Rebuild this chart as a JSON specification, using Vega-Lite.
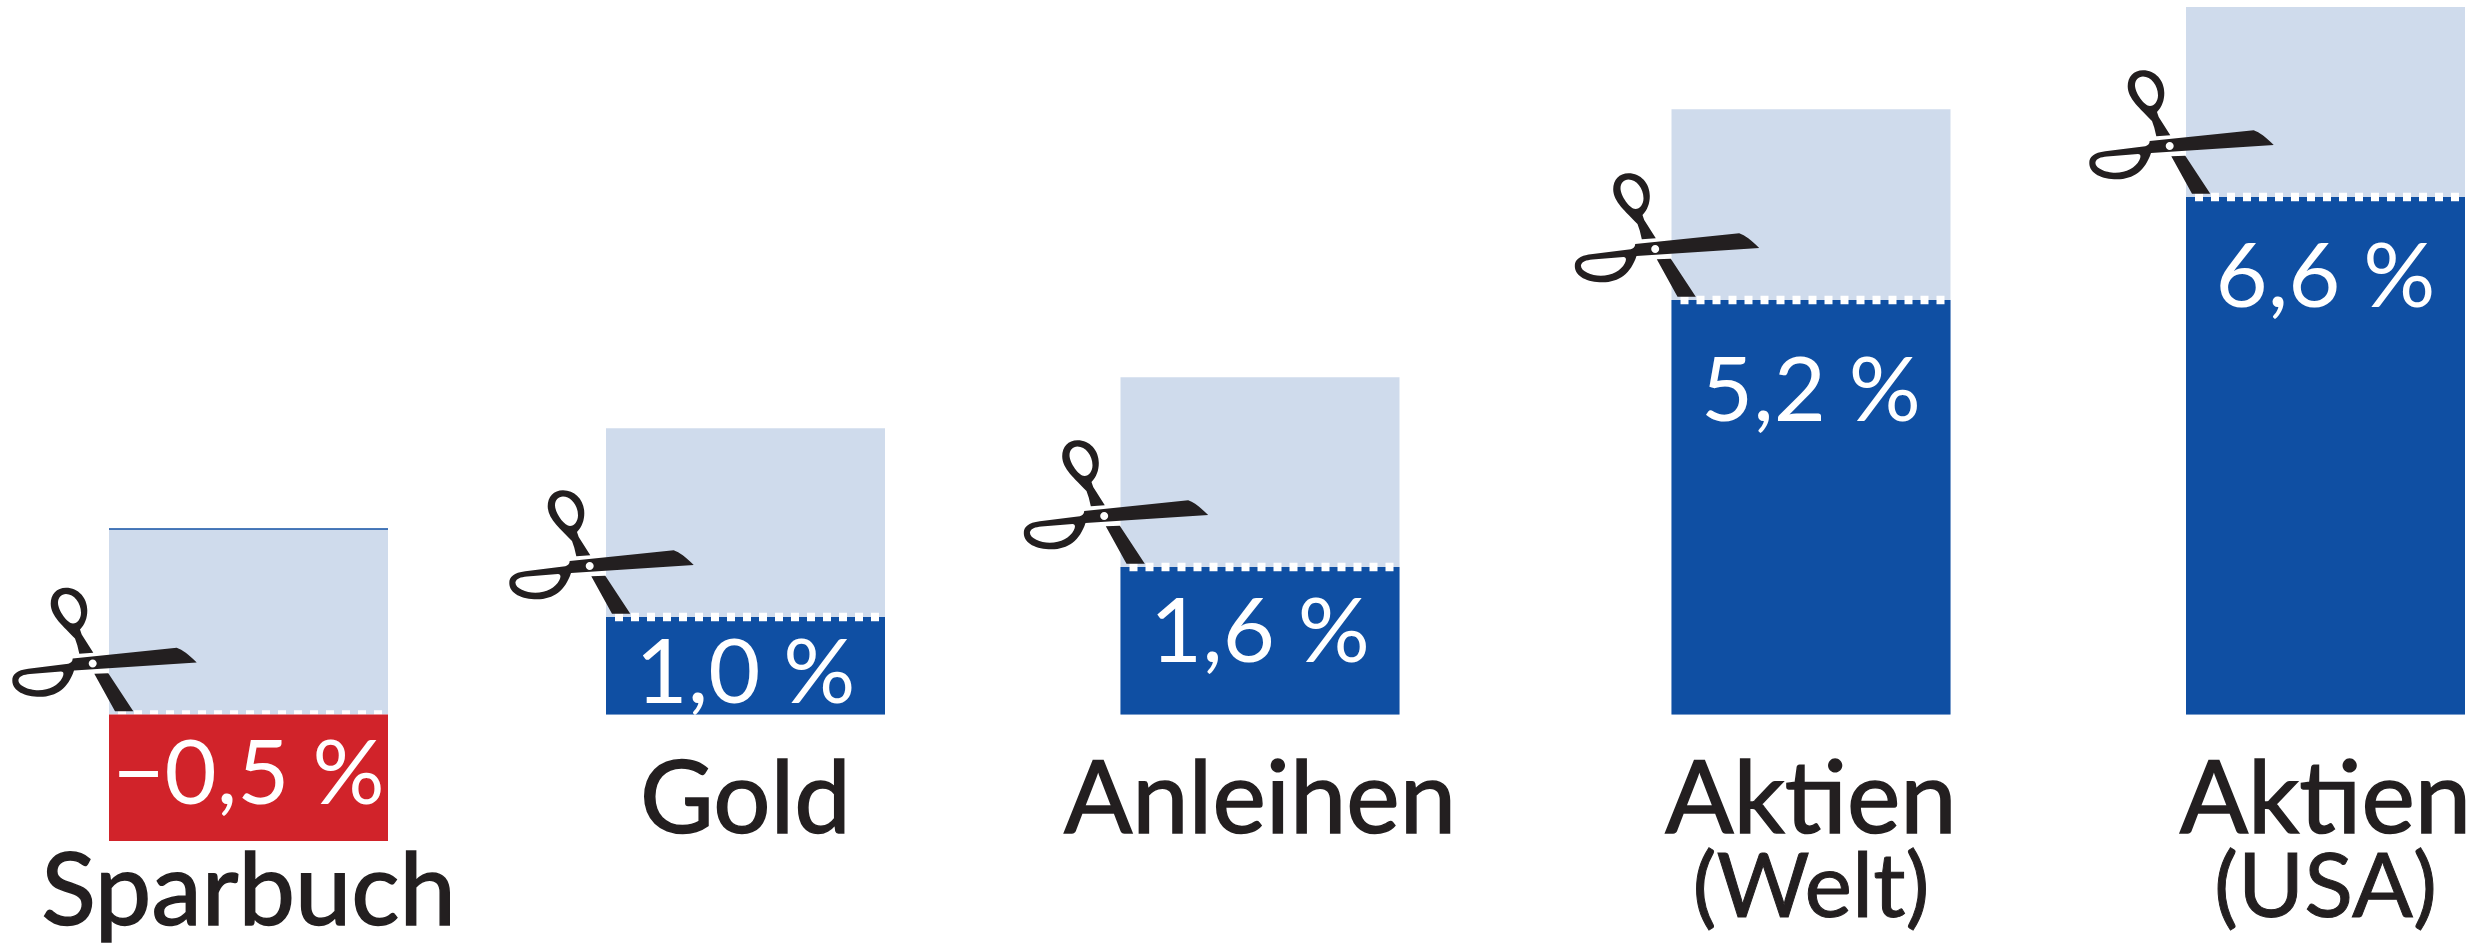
{
"$schema":"https://vega.github.io/schema/vega-lite/v6.json",
"width":2492,"height":945,"padding":0,"autosize":{"type":"none"},
"background":"white","view":{"stroke":null},
"data":{"values":[
{"name":"Sparbuch","sub":"","pos":1,"net":-0.5,"cut":0,"gross":2.11,"label":"−0,5 %"},
{"name":"Gold","sub":"","pos":2,"net":1.0,"cut":1.0,"gross":3.47,"label":"1,0 %"},
{"name":"Anleihen","sub":"","pos":3,"net":1.6,"cut":1.6,"gross":4.16,"label":"1,6 %"},
{"name":"Aktien","sub":"(Welt)","pos":4,"net":5.2,"cut":5.2,"gross":7.8,"label":"5,2 %"},
{"name":"Aktien","sub":"(USA)","pos":5,"net":6.6,"cut":6.6,"gross":9.2,"label":"6,6 %"}
]},
"encoding":{"x":{"field":"pos","type":"quantitative","axis":null,"scale":{"padding":0,"domain":[1,2,3,4,5],"range":[248.5,745.5,1260,1811,2325.5]}}},
"resolve":{"scale":{"y":"independent"}},
"layer":[
{"mark":{"type":"bar","size":279,"orient":"vertical","color":"#CFDBEC"},
 "encoding":{"y":{"field":"gross","type":"quantitative","axis":null,"scale":{"domain":[-0.5,0,1,1.6,5.2,6.6,9.2],"range":[841,714.5,617,567,300,197,7]}}}},
{"transform":[{"filter":"datum.net<0"}],"mark":{"type":"point","filled":true,"opacity":1,"color":"#0F4FA3","size":40000,"strokeWidth":0,"shape":"M-1.395 -0.01L1.395 -0.01L1.395 0.005L-1.395 0.005Z"},
 "encoding":{"y":{"field":"gross","type":"quantitative","axis":null,"scale":{"domain":[-0.5,0,1,1.6,5.2,6.6,9.2],"range":[841,714.5,617,567,300,197,7]}}}},
{"transform":[{"filter":"datum.net>0"}],"mark":{"type":"bar","size":279,"orient":"vertical","color":"#0F4FA3"},
 "encoding":{"y":{"field":"net","type":"quantitative","axis":null,"scale":{"domain":[-0.5,0,1,1.6,5.2,6.6,9.2],"range":[841,714.5,617,567,300,197,7]}}}},
{"mark":{"type":"point","filled":true,"opacity":1,"color":"white","size":40000,"strokeWidth":0,
 "shape":"M-1.305 -0.042h0.08v0.084h-0.08zM-1.145 -0.042h0.08v0.084h-0.08zM-0.985 -0.042h0.08v0.084h-0.08zM-0.825 -0.042h0.08v0.084h-0.08zM-0.665 -0.042h0.08v0.084h-0.08zM-0.505 -0.042h0.08v0.084h-0.08zM-0.345 -0.042h0.08v0.084h-0.08zM-0.185 -0.042h0.08v0.084h-0.08zM-0.025 -0.042h0.08v0.084h-0.08zM0.135 -0.042h0.08v0.084h-0.08zM0.295 -0.042h0.08v0.084h-0.08zM0.455 -0.042h0.08v0.084h-0.08zM0.615 -0.042h0.08v0.084h-0.08zM0.775 -0.042h0.08v0.084h-0.08zM0.935 -0.042h0.08v0.084h-0.08zM1.095 -0.042h0.08v0.084h-0.08zM1.255 -0.042h0.08v0.084h-0.08z"},
 "encoding":{"y":{"field":"cut","type":"quantitative","axis":null,"scale":{"domain":[-0.5,0,1,1.6,5.2,6.6,9.2],"range":[841,714.5,617,567,300,197,7]}}}},
{"transform":[{"filter":"datum.net<0"}],"mark":{"type":"bar","size":279,"orient":"vertical","color":"#D1232A"},
 "encoding":{"y":{"field":"net","type":"quantitative","axis":null,"scale":{"domain":[-0.5,0,1,1.6,5.2,6.6,9.2],"range":[841,714.5,617,567,300,197,7]}}}},
{"mark":{"type":"point","filled":true,"opacity":1,"color":"#231F20","size":40000,"strokeWidth":0,
 "shape":"M-0.518 -0.52C-0.602 -0.6 -0.658 -0.647 -0.718 -0.667L-1.758 -0.56C-1.758 -0.533 -1.778 -0.513 -1.802 -0.507L-2.202 -0.457C-2.318 -0.443 -2.362 -0.4 -2.362 -0.34C-2.362 -0.233 -2.235 -0.177 -2.085 -0.177C-1.918 -0.177 -1.802 -0.267 -1.745 -0.44ZM-2.3 -0.35C-2.29 -0.385 -2.25 -0.4 -2.185 -0.406L-1.875 -0.43C-1.845 -0.43 -1.845 -0.4 -1.862 -0.367C-1.9 -0.293 -1.99 -0.243 -2.102 -0.243C-2.2 -0.243 -2.31 -0.29 -2.3 -0.35ZM-1.598 -0.51C-1.598 -0.532 -1.58 -0.55 -1.558 -0.55C-1.536 -0.55 -1.518 -0.532 -1.518 -0.51C-1.518 -0.488 -1.536 -0.47 -1.558 -0.47C-1.58 -0.47 -1.598 -0.488 -1.598 -0.51ZM-1.552 -0.617L-1.668 -0.8L-1.685 -0.85C-1.635 -0.9 -1.612 -0.967 -1.612 -1.04C-1.612 -1.167 -1.702 -1.267 -1.825 -1.267C-1.918 -1.267 -1.978 -1.2 -1.978 -1.107C-1.978 -0.983 -1.852 -0.883 -1.735 -0.76L-1.712 -0.693L-1.692 -0.607ZM-1.905 -1.117C-1.905 -1.167 -1.872 -1.205 -1.825 -1.205C-1.745 -1.205 -1.675 -1.117 -1.675 -1.017C-1.675 -0.955 -1.712 -0.91 -1.755 -0.91C-1.812 -0.91 -1.905 -1.04 -1.905 -1.117ZM-1.542 -0.407L-1.402 -0.413L-1.152 -0.033L-1.335 -0.033Z"},
 "encoding":{"y":{"field":"cut","type":"quantitative","axis":null,"scale":{"domain":[-0.5,0,1,1.6,5.2,6.6,9.2],"range":[841,714.5,617,567,300,197,7]}}}},
{"mark":{"type":"text","font":"Lato","fontSize":90,"color":"white","align":"center","baseline":"alphabetic"},
 "encoding":{"text":{"field":"label"},"y":{"field":"pos","type":"quantitative","axis":null,"scale":{"domain":[1,2,3,4,5],"range":[804,703,662,421,307]}}}},
{"mark":{"type":"text","font":"Lato","fontSize":101,"color":"#231F20","stroke":"#231F20","strokeWidth":1.5,"align":"center","baseline":"alphabetic"},
 "encoding":{"text":{"field":"name"},"y":{"field":"pos","type":"quantitative","axis":null,"scale":{"domain":[1,2,3,4,5],"range":[925,833,833,833,833]}}}},
{"transform":[{"filter":"datum.sub!==''"}],"mark":{"type":"text","font":"Lato","fontSize":90,"color":"#231F20","stroke":"#231F20","strokeWidth":1,"align":"center","baseline":"alphabetic"},
 "encoding":{"text":{"field":"sub"},"y":{"field":"pos","type":"quantitative","axis":null,"scale":{"domain":[4,5],"range":[917,917]}}}}
]}
